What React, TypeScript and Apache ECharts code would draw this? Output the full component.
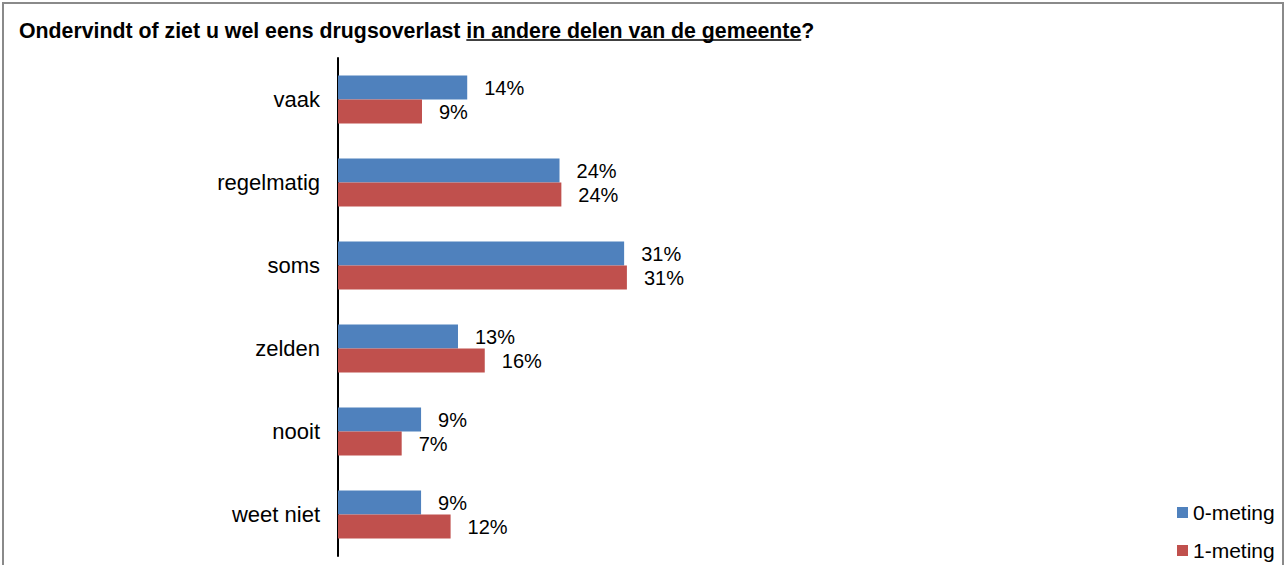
import React, { useEffect, useRef } from "react";
import * as echarts from "echarts";

const categories = ["vaak", "regelmatig", "soms", "zelden", "nooit", "weet niet"];
const meting0 = [14.0, 24.0, 31.0, 13.0, 9.0, 9.0];
const meting1 = [9.1, 24.2, 31.3, 15.9, 6.9, 12.2];
const seriesNames = ["0-meting", "1-meting"];
const titleParts = ["Ondervindt of ziet u wel eens drugsoverlast ", "in andere delen van de gemeente", "?"];

const FONT = "'Liberation Sans', Arial, sans-serif";

function measure(text: string, font: string): number {
  const c = document.createElement("canvas").getContext("2d");
  if (!c) return text.length * 10;
  c.font = font;
  return c.measureText(text).width;
}

export default function App() {
  const ref = useRef<HTMLDivElement>(null);
  useEffect(() => {
    if (!ref.current) return;
    const chart = echarts.init(ref.current, undefined, { renderer: "svg" });
    const titleSize = 21.3;
    const tFont = `bold ${titleSize}px ${FONT}`;
    const tx = 19;
    const w1 = measure(titleParts[0], tFont);
    const w2 = measure(titleParts[1], tFont);
    const labelFmt = (p: any) => Math.round(p.value) + "%";
    chart.setOption({
      animation: false,
      backgroundColor: "#ffffff",
      grid: { left: 338, top: 58, width: 923, height: 498, containLabel: false },
      xAxis: {
        type: "value",
        min: 0,
        max: 100,
        show: false,
      },
      yAxis: {
        type: "category",
        data: categories,
        inverse: true,
        axisLine: { show: true, lineStyle: { color: "#000", width: 2 } },
        axisTick: { show: false },
        axisLabel: { color: "#000", fontSize: 22, fontFamily: FONT, margin: 18 },
        splitLine: { show: false },
      },
      legend: {
        orient: "vertical",
        left: 1177,
        top: 502,
        padding: 0,
        itemWidth: 11,
        itemHeight: 11,
        itemGap: 17,
        icon: "rect",
        textStyle: { color: "#000", fontSize: 21, fontFamily: FONT },
        data: seriesNames,
      },
      series: [
        {
          name: seriesNames[0],
          type: "bar",
          data: meting0,
          barWidth: 24,
          barGap: "0%",
          itemStyle: { color: "#4F81BD" },
          label: {
            show: true,
            position: "right",
            distance: 17,
            formatter: labelFmt,
            color: "#000",
            fontSize: 20,
            fontFamily: FONT,
          },
        },
        {
          name: seriesNames[1],
          type: "bar",
          data: meting1,
          barWidth: 24,
          barGap: "0%",
          itemStyle: { color: "#C0504D" },
          label: {
            show: true,
            position: "right",
            distance: 17,
            formatter: labelFmt,
            color: "#000",
            fontSize: 20,
            fontFamily: FONT,
          },
        },
      ],
      graphic: [
        {
          type: "rect",
          z: -1,
          shape: { x: 3, y: 3, width: 1280, height: 700 },
          style: { fill: "none", stroke: "#8a8a8a", lineWidth: 2 },
        },
        {
          type: "text",
          x: tx,
          y: 31,
          style: {
            text: titleParts.join(""),
            font: tFont,
            fill: "#000",
            verticalAlign: "middle",
            align: "left",
          },
        },
        {
          type: "line",
          shape: { x1: tx + w1, y1: 40, x2: tx + w1 + w2, y2: 40 },
          style: { stroke: "#000", lineWidth: 1.5 },
        },
      ],
    });
    return () => chart.dispose();
  }, []);
  return (
    <div
      ref={ref}
      style={{ position: "absolute", left: 0, top: 0, width: 1287, height: 565 }}
    />
  );
}
